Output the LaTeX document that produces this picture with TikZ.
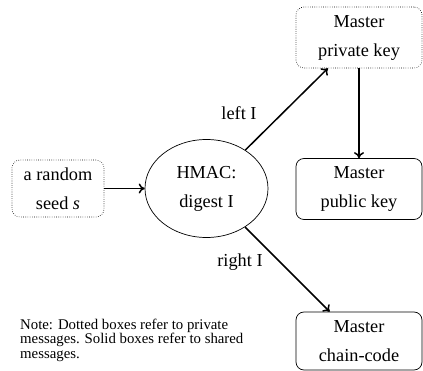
\documentclass[tikz,border=0pt]{standalone}
\usepackage{fontspec}
\setmainfont{Liberation Serif}
\usetikzlibrary{shapes.geometric,arrows.meta}
\begin{document}
\begin{tikzpicture}[x=1pt,y=-1pt,
  every node/.style={font=\fontsize{18.3}{29}\selectfont, align=center, inner sep=0pt},
  privbox/.style={draw, dash pattern=on 0.6pt off 1.6pt, rounded corners=8pt, minimum width=126pt, minimum height=61pt, line width=0.6pt},
  pubbox/.style={draw, rounded corners=8pt, minimum width=126pt, minimum height=61pt, line width=0.7pt},
  conn/.style={-{To[length=6pt,width=10pt]}, line width=1.5pt},
  notestyle/.style={anchor=north west, align=left, font=\fontsize{14.8}{14.3}\selectfont}]
\useasboundingbox (0,0) rectangle (423,371);
\node[privbox, minimum width=92pt, minimum height=57pt] (seed) at (58,188.5) {a random\\seed \textit{s}};
\node[draw, ellipse, minimum width=123pt, minimum height=98pt, line width=0.7pt] (hmac) at (206.5,188.5) {HMAC:\\digest I};
\node[privbox] (priv) at (359,37.5) {Master\\private key};
\node[pubbox] (pub) at (359,189) {Master\\public key};
\node[pubbox, minimum height=58pt] (chain) at (359,341) {Master\\chain-code};
\node (lleft) at (239,113) {left I};
\node (lright) at (240,262) {right I};
\node[notestyle] (note) at (20,319) {Note: Dotted boxes refer to private\\messages. Solid boxes refer to shared\\messages.};
\draw[conn] (seed) -- (hmac);
\draw[conn] (hmac) -- (priv);
\draw[conn] (priv) -- (pub);
\draw[conn] (hmac) -- (chain);
\end{tikzpicture}
\end{document}
